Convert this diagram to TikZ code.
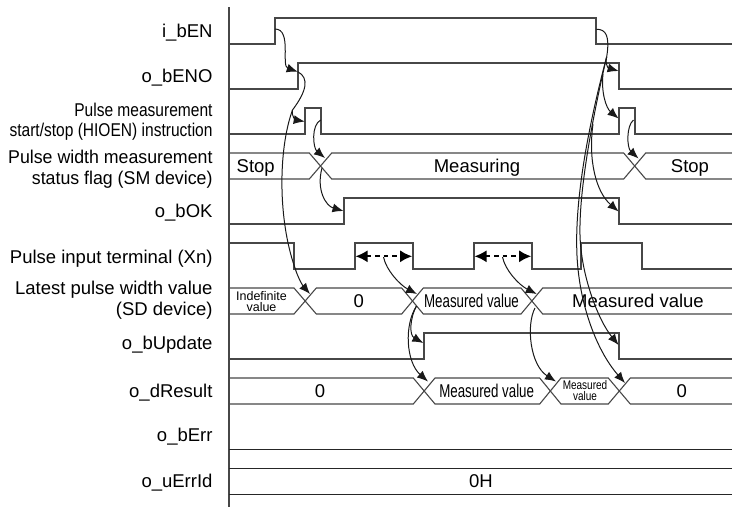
\documentclass[tikz,border=0pt]{standalone}
\usepackage{fontspec}
\setmainfont{Liberation Sans}
\newfontfamily\narrowfont[FakeStretch=0.84]{Liberation Sans}
\newfontfamily\slimfont[FakeStretch=0.96]{Liberation Sans}
\newfontfamily\thinfont[FakeStretch=0.72]{Liberation Sans}
\newfontfamily\tinyfont[FakeStretch=0.8]{Liberation Sans}
\usetikzlibrary{arrows.meta}

\begin{document}
\begin{tikzpicture}[
  x=1pt, y=-1pt,
  font=\fontsize{18.5}{20.7}\selectfont,
  wave/.style={draw=black!72, line width=1.1pt},
  hold/.style={draw=black!85, line width=1pt},
  lbl/.style={anchor=base east, inner sep=0pt, align=right},
  lblb/.style={anchor=east, inner sep=0pt, align=right},
  val/.style={anchor=base, inner sep=0pt, align=center},
  small/.style={anchor=center, inner sep=0pt, align=center, font=\fontsize{12.5}{11}\selectfont},
  msg/.style={-{Latex[length=11pt,width=9pt]}, line width=1pt, black!90},
  link/.style={line width=1pt, black!90},
  gap/.style={{Latex[length=12pt,width=12pt]}-{Latex[length=12pt,width=12pt]}, line width=1.8pt, dash pattern=on 4.5pt off 4pt},
]
\useasboundingbox (0,0) rectangle (732,507);

\node[lbl] (en) at (212.7,37.7) {i\_bEN};
\node[lbl] (eno) at (212.7,82.7) {o\_bENO};
\node[lblb, font=\fontsize{18.5}{20}\selectfont\narrowfont] (hioen) at (212.7,121.5) {Pulse measurement\\start/stop (HIOEN) instruction};
\node[lblb, font=\fontsize{18.5}{20.7}\selectfont\slimfont] (flag) at (212.7,169.5) {Pulse width measurement\\status flag (SM device)};
\node[lbl] (ok) at (212.7,217.7) {o\_bOK};
\node[lbl] (xn) at (212.7,263.3) {Pulse input terminal (Xn)};
\node[lblb] (latest) at (212.7,300.5) {Latest pulse width value\\(SD device)};
\node[lbl] (update) at (212.7,349) {o\_bUpdate};
\node[lbl] (result) at (212.7,397.7) {o\_dResult};
\node[lbl] (err) at (212.7,441) {o\_bErr};
\node[lbl] (errid) at (212.7,487.7) {o\_uErrId};

\draw[wave] (229,7) -- (229,507);

\draw[wave] (229,44) -- (275,44) -- (275,18) -- (596,18) -- (596,44) -- (732,44);
\draw[wave] (229,89) -- (298,89) -- (298,63) -- (619,63) -- (619,89) -- (732,89);
\draw[wave] (229,134) -- (305,134) -- (305,108) -- (321,108) -- (321,134) -- (619,134) -- (619,108) -- (635,108) -- (635,134) -- (732,134);
\draw[wave] (229,224) -- (344,224) -- (344,198) -- (619,198) -- (619,224) -- (732,224);
\draw[wave] (229,243) -- (294,243) -- (294,269) -- (355,269) -- (355,243) -- (413,243) -- (413,269) -- (474,269) -- (474,243) -- (532,243) -- (532,269) -- (581,269) -- (581,243) -- (642,243) -- (642,269) -- (732,269);
\draw[wave] (229,359) -- (424,359) -- (424,333) -- (619,333) -- (619,359) -- (732,359);

\draw[wave] (229,153) -- (309.3,153) -- (331.7,179) -- (623.7,179) -- (645.7,153) -- (732,153);
\draw[wave] (229,179) -- (309.3,179) -- (331.7,153) -- (623.7,153) -- (645.7,179) -- (732,179);

\draw[wave] (229,288) -- (294,288) -- (316.3,314) -- (401.7,314) -- (423.3,288) -- (521,288) -- (542.7,314) -- (732,314);
\draw[wave] (229,314) -- (294,314) -- (316.3,288) -- (401.7,288) -- (423.3,314) -- (521,314) -- (542.7,288) -- (732,288);

\draw[wave] (229,378) -- (413.3,378) -- (435,404) -- (539.7,404) -- (561,378) -- (608.3,378) -- (630.3,404) -- (732,404);
\draw[wave] (229,404) -- (413.3,404) -- (435,378) -- (539.7,378) -- (561,404) -- (608.3,404) -- (630.3,378) -- (732,378);

\draw[hold] (229,449) -- (732,449);
\draw[hold] (229,468) -- (732,468);
\draw[hold] (229,494) -- (732,494);

\node[val] (stopa) at (255.7,172.7) {Stop};
\node[val] (measuring) at (477,172.7) {Measuring};
\node[val] (stopb) at (690,172.7) {Stop};
\node[small] (indef) at (261.5,301.5) {Indefinite\\value};
\node[val] (zeroa) at (358.7,307.7) {0};
\node[val, font=\fontsize{18.5}{20}\selectfont\thinfont] (valuea) at (471.5,307.7) {Measured value};
\node[val] (valueb) at (638,307.7) {Measured value};
\node[val] (zerob) at (320,397.7) {0};
\node[val, font=\fontsize{18.5}{20}\selectfont\thinfont] (valuec) at (486.7,397.7) {Measured value};
\node[small, font=\fontsize{12.5}{11}\selectfont\tinyfont] (valued) at (585,390.5) {Measured\\value};
\node[val] (zeroc) at (681.7,397.7) {0};
\node[val] (hex) at (481,487.7) {0H};

\coordinate (enUp) at (275,29);
\coordinate (enoUp) at (297.7,71.7);
\coordinate (hioenUp) at (304.7,121.5);
\coordinate (splitA) at (292.5,110);
\coordinate (pulseDown) at (320.7,120);
\coordinate (flagA) at (325,158);
\coordinate (flagMid) at (322,168);
\coordinate (okUp) at (343.5,211);
\coordinate (latestA) at (310,294);
\coordinate (gapA) at (383.5,257);
\coordinate (gapB) at (502.5,257);
\coordinate (latestB) at (417,294);
\coordinate (latestC) at (536.7,294);
\coordinate (crossB) at (416.5,306);
\coordinate (updateUp) at (423.3,343);
\coordinate (resultA) at (428,381.5);
\coordinate (crossC) at (535,308);
\coordinate (resultB) at (556,381.5);
\coordinate (enDown) at (596.3,29.3);
\coordinate (splitB) at (606.7,56.7);
\coordinate (enoDown) at (618.6,71);
\coordinate (splitC) at (603,74);
\coordinate (hioenDown) at (618.6,118.5);
\coordinate (splitD) at (593,124);
\coordinate (okDown) at (618.6,211.5);
\coordinate (updateDown) at (618.6,345);
\coordinate (resultC) at (625,383);
\coordinate (pulseEnd) at (633.5,120);
\coordinate (flagB) at (638.5,158.5);

\draw[msg] (enUp) .. controls (292,29) and (281,66) .. (enoUp);
\draw[link] (enoUp) .. controls (310,78) and (306,92) .. (splitA);
\draw[msg] (splitA) .. controls (291,116) and (296,120) .. (hioenUp);
\draw[msg] (splitA) .. controls (278,150) and (278,220) .. (295,268) .. controls (298,278) and (303,286) .. (latestA);
\draw[msg] (pulseDown) .. controls (311,125) and (313,148) .. (flagA);
\draw[msg] (flagMid) .. controls (316,190) and (326,206) .. (okUp);

\draw[gap] (355.5,256.3) -- (412.2,256.3);
\draw[gap] (474.5,256.3) -- (531.2,256.3);
\draw[msg] (gapA) .. controls (386,270) and (400,285) .. (latestB);
\draw[msg] (gapB) .. controls (505,270) and (519,285) .. (latestC);
\draw[msg] (crossB) .. controls (410,318) and (409,335) .. (updateUp);
\draw[msg] (crossB) .. controls (404,325) and (406,362) .. (resultA);
\draw[msg] (crossC) .. controls (526,325) and (530,365) .. (resultB);

\draw[link] (enDown) .. controls (606,29) and (610,36) .. (splitB);
\draw[msg] (splitB) .. controls (605,64) and (608,68) .. (enoDown);
\draw[msg] (splitC) .. controls (601,92) and (606,108) .. (hioenDown);
\draw[msg] (splitD) .. controls (588,160) and (596,192) .. (okDown);
\draw[msg] (splitB) .. controls (590,120) and (576,190) .. (576.7,245) .. controls (577,300) and (596,350) .. (resultC);
\draw[msg] (splitB) .. controls (592,120) and (579,190) .. (580,235) .. controls (581,275) and (598,320) .. (updateDown);
\draw[msg] (pulseEnd) .. controls (626,126) and (627,148) .. (flagB);
\end{tikzpicture}
\end{document}
